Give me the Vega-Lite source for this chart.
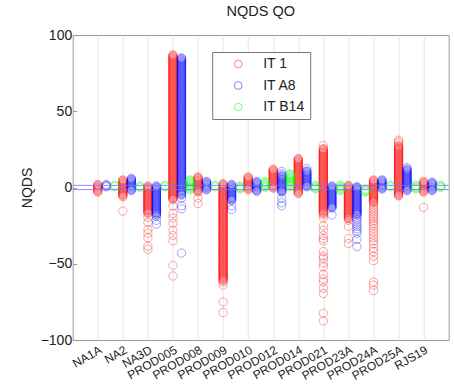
{
  "$schema": "https://vega.github.io/schema/vega-lite/v6.json",
  "width": 376,
  "height": 305,
  "autosize": {"type": "none"},
  "padding": {"left": 72.7, "top": 35, "right": 5.3, "bottom": 45},
  "title": {"text": "NQDS QO", "fontSize": 14.5, "fontWeight": "normal", "font": "Liberation Sans", "color": "#222", "offset": 9},
  "config": {"view": {"stroke": "#999"}, "font": "Liberation Sans"},
  "layer": [
    {
      "data": {"values": [
        {"s": "IT 1", "x": 1, "v": [2,1.5,1,0.5,0,-0.5,-1,-1.5,-2,-2.5,-3]},
        {"s": "IT 1", "x": 2, "v": [5,4.5,4,3.5,3,2.5,2,1.5,1,0.5,0,-0.5,-1,-1.5,-2,-2.5,-3,-3.5,-4,-4.5,-5,-5.5,-6,-15.5]},
        {"s": "IT 1", "x": 3, "v": [1,0.5,0,-0.5,-1,-1.5,-2,-2.5,-3,-3.5,-4,-4.5,-5,-5.5,-6,-6.5,-7,-7.5,-8,-8.5,-9,-9.5,-10,-10.5,-11,-11.5,-12,-12.5,-13,-13.5,-14,-14.5,-15,-15.5,-16,-16.5,-17,-19.5,-23,-27.5,-30,-33,-38.5,-40.5]},
        {"s": "IT 1", "x": 4, "v": [87,86.5,86,85.5,85,84.5,84,83.5,83,82.5,82,81.5,81,80.5,80,79.5,79,78.5,78,77.5,77,76.5,76,75.5,75,74.5,74,73.5,73,72.5,72,71.5,71,70.5,70,69.5,69,68.5,68,67.5,67,66.5,66,65.5,65,64.5,64,63.5,63,62.5,62,61.5,61,60.5,60,59.5,59,58.5,58,57.5,57,56.5,56,55.5,55,54.5,54,53.5,53,52.5,52,51.5,51,50.5,50,49.5,49,48.5,48,47.5,47,46.5,46,45.5,45,44.5,44,43.5,43,42.5,42,41.5,41,40.5,40,39.5,39,38.5,38,37.5,37,36.5,36,35.5,35,34.5,34,33.5,33,32.5,32,31.5,31,30.5,30,29.5,29,28.5,28,27.5,27,26.5,26,25.5,25,24.5,24,23.5,23,22.5,22,21.5,21,20.5,20,19.5,19,18.5,18,17.5,17,16.5,16,15.5,15,14.5,14,13.5,13,12.5,12,11.5,11,10.5,10,9.5,9,8.5,8,7.5,7,6.5,6,5.5,5,4.5,4,3.5,3,2.5,2,1.5,1,0.5,0,-0.5,-1,-1.5,-2,-2.5,-3,-3.5,-4,-4.5,-5,-5.5,-6,-6.5,-7,-7.5,-8,-12,-17,-20,-23.5,-28,-31.5,-35,-51,-58]},
        {"s": "IT 1", "x": 5, "v": [7,6.5,6,5.5,5,4.5,4,3.5,3,2.5,2,1.5,1,0.5,0,-0.5,-1,-1.5,-2,-2.5,-3,-7,-10.5]},
        {"s": "IT 1", "x": 6, "v": [2.5,2,1.5,1,0.5,0,-0.5,-1,-1.5,-2,-2.5,-3,-3.5,-4,-4.5,-5,-5.5,-6,-6.5,-7,-7.5,-8,-8.5,-9,-9.5,-10,-10.5,-11,-11.5,-12,-12.5,-13,-13.5,-14,-14.5,-15,-15.5,-16,-16.5,-17,-17.5,-18,-18.5,-19,-19.5,-20,-20.5,-21,-21.5,-22,-22.5,-23,-23.5,-24,-24.5,-25,-25.5,-26,-26.5,-27,-27.5,-28,-28.5,-29,-29.5,-30,-30.5,-31,-31.5,-32,-32.5,-33,-33.5,-34,-34.5,-35,-35.5,-36,-36.5,-37,-37.5,-38,-38.5,-39,-39.5,-40,-40.5,-41,-41.5,-42,-42.5,-43,-43.5,-44,-44.5,-45,-45.5,-46,-46.5,-47,-47.5,-48,-48.5,-49,-49.5,-50,-50.5,-51,-51.5,-52,-52.5,-53,-53.5,-54,-54.5,-55,-55.5,-56,-56.5,-57,-57.5,-58,-58.5,-59,-59.5,-60,-60.5,-61,-62,-64,-75,-82]},
        {"s": "IT 1", "x": 7, "v": [7,6.5,6,5.5,5,4.5,4,3.5,3,2.5,2,1.5,1,0.5,0,-0.5,-1,-1.5]},
        {"s": "IT 1", "x": 8, "v": [12,11.5,11,10.5,10,9.5,9,8.5,8,7.5,7,6.5,6,5.5,5,4.5,4,3.5,3,2.5,2,1.5,1,0.5,0,-0.5]},
        {"s": "IT 1", "x": 9, "v": [19,18.5,18,17.5,17,16.5,16,15.5,15,14.5,14,13.5,13,12.5,12,11.5,11,10.5,10,9.5,9,8.5,8,7.5,7,6.5,6,5.5,5,4.5,4,3.5,3,2.5,2,1.5,1,0.5,0,-0.5,-1,-1.5,-2,-2.5,-3,-3.5,-4]},
        {"s": "IT 1", "x": 10, "v": [27.5,25.5,25,24.5,24,23.5,23,22.5,22,21.5,21,20.5,20,19.5,19,18.5,18,17.5,17,16.5,16,15.5,15,14.5,14,13.5,13,12.5,12,11.5,11,10.5,10,9.5,9,8.5,8,7.5,7,6.5,6,5.5,5,4.5,4,3.5,3,2.5,2,1.5,1,0.5,0,-0.5,-1,-1.5,-2,-2.5,-3,-3.5,-4,-4.5,-5,-5.5,-6,-6.5,-7,-7.5,-8,-8.5,-9,-9.5,-10,-10.5,-11,-11.5,-12,-12.5,-13,-13.5,-14,-14.5,-15,-15.5,-16,-16.5,-17,-18,-20,-25,-28,-31.5,-33.5,-35,-42,-45,-46.5,-49.5,-52,-57,-60,-62,-66,-69.5,-82.5,-87.5]},
        {"s": "IT 1", "x": 11, "v": [1.5,1,0.5,0,-0.5,-1,-1.5,-2,-2.5,-3,-3.5,-4,-4.5,-5,-5.5,-6,-6.5,-7,-7.5,-8,-8.5,-9,-9.5,-10,-10.5,-11,-11.5,-12,-12.5,-13,-13.5,-14,-14.5,-15,-15.5,-16,-16.5,-17,-17.5,-18,-18.5,-19,-19.5,-20,-20.5,-21.5,-25.5,-33.5,-36.7]},
        {"s": "IT 1", "x": 12, "v": [5,4.5,4,3.5,3,2.5,2,1.5,1,0.5,0,-0.5,-1,-1.5,-2,-2.5,-3,-3.5,-4,-4.5,-5,-5.5,-6,-6.5,-7,-7.5,-8,-8.5,-9,-9.5,-10,-11.5,-13,-14.5,-16,-17.5,-19,-20.5,-22,-23.5,-25,-27,-29,-31,-33,-35,-37,-40,-42,-45,-48,-62,-64,-67.5]},
        {"s": "IT 1", "x": 13, "v": [31,30,29,27.5,27,26.5,26,25.5,25,24.5,24,23.5,23,22.5,22,21.5,21,20.5,20,19.5,19,18.5,18,17.5,17,16.5,16,15.5,15,14.5,14,13.5,13,12.5,12,11.5,11,10.5,10,9.5,9,8.5,8,7.5,7,6.5,6,5.5,5,4.5,4,3.5,3,2.5,2,1.5,1,0.5,0,-0.5,-1,-1.5,-2,-2.5,-3,-3.5,-4,-4.5,-5,-5.5]},
        {"s": "IT 1", "x": 14, "v": [4,3.5,3,2.5,2,1.5,1,0.5,0,-0.5,-1,-1.5,-2,-2.5,-3,-13]},
        {"s": "IT A8", "x": 1.34, "v": [2,1.5,1,0.5]},
        {"s": "IT A8", "x": 2.34, "v": [6,5.5,5,4.5,4,3.5,3,2.5,2,1.5,1,0.5,0,-0.5,-1,-1.5,-2]},
        {"s": "IT A8", "x": 3.34, "v": [1,0.5,0,-0.5,-1,-1.5,-2,-2.5,-3,-3.5,-4,-4.5,-5,-5.5,-6,-6.5,-7,-7.5,-8,-8.5,-9,-9.5,-10,-10.5,-11,-11.5,-12,-12.5,-13,-13.5,-14,-14.5,-15,-15.5,-16,-16.5,-17,-17.5,-18,-19,-21.5,-24]},
        {"s": "IT A8", "x": 4.34, "v": [85,84.5,84,83.5,83,82.5,82,81.5,81,80.5,80,79.5,79,78.5,78,77.5,77,76.5,76,75.5,75,74.5,74,73.5,73,72.5,72,71.5,71,70.5,70,69.5,69,68.5,68,67.5,67,66.5,66,65.5,65,64.5,64,63.5,63,62.5,62,61.5,61,60.5,60,59.5,59,58.5,58,57.5,57,56.5,56,55.5,55,54.5,54,53.5,53,52.5,52,51.5,51,50.5,50,49.5,49,48.5,48,47.5,47,46.5,46,45.5,45,44.5,44,43.5,43,42.5,42,41.5,41,40.5,40,39.5,39,38.5,38,37.5,37,36.5,36,35.5,35,34.5,34,33.5,33,32.5,32,31.5,31,30.5,30,29.5,29,28.5,28,27.5,27,26.5,26,25.5,25,24.5,24,23.5,23,22.5,22,21.5,21,20.5,20,19.5,19,18.5,18,17.5,17,16.5,16,15.5,15,14.5,14,13.5,13,12.5,12,11.5,11,10.5,10,9.5,9,8.5,8,7.5,7,6.5,6,5.5,5,4.5,4,3.5,3,2.5,2,1.5,1,0.5,0,-0.5,-1,-1.5,-2,-2.5,-3,-3.5,-4,-4.5,-5,-7,-12,-14,-43]},
        {"s": "IT A8", "x": 5.34, "v": [4,3.5,3,2.5,2,1.5,1,0.5,0,-0.5,-1,-1.5]},
        {"s": "IT A8", "x": 6.34, "v": [2,1.5,1,0.5,0,-0.5,-1,-1.5,-2,-2.5,-3,-3.5,-4,-4.5,-5,-5.5,-6,-6.5,-7,-7.5,-8,-8.5,-12,-14.5]},
        {"s": "IT A8", "x": 7.34, "v": [4,3.5,3,2.5,2,1.5,1,0.5,0,-0.5,-1,-1.5,-2,-2.5]},
        {"s": "IT A8", "x": 8.34, "v": [10.5,9,8,7.5,7,6.5,6,5.5,5,4.5,4,3.5,3,2.5,2,1.5,1,0.5,0,-0.5,-1,-1.5,-2,-2.5,-3,-7,-10,-12]},
        {"s": "IT A8", "x": 9.34, "v": [12.5,11,10.5,10,9.5,9,8.5,8,7.5,7,6.5,6,5.5,5,4.5,4,3.5,3,2.5,2,1.5,1,0.5]},
        {"s": "IT A8", "x": 10.34, "v": [1,0.5,0,-0.5,-1,-1.5,-2,-2.5,-3,-3.5,-4,-4.5,-5,-5.5,-6,-6.5,-7,-7.5,-8,-8.5,-9,-9.5,-10,-10.5,-11,-11.5,-12,-12.5,-13,-13.5,-18]},
        {"s": "IT A8", "x": 11.34, "v": [0.5,0,-0.5,-1,-1.5,-2,-2.5,-3,-3.5,-4,-4.5,-5,-5.5,-6,-6.5,-7,-7.5,-8,-8.5,-9,-9.5,-10,-10.5,-11,-11.5,-12,-12.5,-13,-13.5,-14,-14.5,-15,-15.5,-16,-16.5,-17,-17.5,-18,-19.5,-21,-22.5,-24,-25.5,-27,-28.5,-30,-34,-38.7]},
        {"s": "IT A8", "x": 12.34, "v": [5,4.5,4,3.5,3,2.5,2,1.5,1,0.5,0,-0.5,-1]},
        {"s": "IT A8", "x": 13.34, "v": [13,12,11.5,11,10.5,10,9.5,9,8.5,8,7.5,7,6.5,6,5.5,5,4.5,4,3.5,3,2.5,2,1.5,1,0.5,0,-0.5,-1,-1.5,-2]},
        {"s": "IT A8", "x": 14.34, "v": [3.5,3,2.5,2,1.5,1,0.5,0,-0.5,-1,-1.5,-2]},
        {"s": "IT B14", "x": 1.68, "v": [1.5,1,0.5]},
        {"s": "IT B14", "x": 2.68, "v": [1,0.5,0]},
        {"s": "IT B14", "x": 3.68, "v": [1.5,1,0.5]},
        {"s": "IT B14", "x": 4.68, "v": [5,4.5,4,3.5,3,2.5,2,1.5,1,0.5,0,-0.5,-1,-1.5]},
        {"s": "IT B14", "x": 5.68, "v": [1.5,1,0.5]},
        {"s": "IT B14", "x": 6.68, "v": [1,0.5,0,-0.5,-1]},
        {"s": "IT B14", "x": 7.68, "v": [4,3.5,3,2.5,2,1.5,1,0.5,0]},
        {"s": "IT B14", "x": 8.68, "v": [9,8.5,8,7.5,7,6.5,6,5.5,5,4.5,4,3.5,3,2.5,2,1.5,1,0.5]},
        {"s": "IT B14", "x": 9.68, "v": [1.5,1,0.5,0,-0.5,-1]},
        {"s": "IT B14", "x": 10.68, "v": [1.5,1,0.5,0,-0.5,-1,-1.5,-2]},
        {"s": "IT B14", "x": 11.68, "v": [-1,-1.5,-2,-2.5,-3]},
        {"s": "IT B14", "x": 12.68, "v": [1.5,1,0.5]},
        {"s": "IT B14", "x": 13.68, "v": [1.5,1,0.5,0,-0.5,-1]},
        {"s": "IT B14", "x": 14.68, "v": [1.5,1,0.5,0]}
      ]},
      "transform": [{"flatten": ["v"]}],
      "mark": {"type": "point", "shape": "circle", "filled": false, "size": 70, "strokeWidth": 1, "strokeOpacity": 0.5},
      "encoding": {
        "x": {
          "field": "x", "type": "quantitative",
          "scale": {"domain": [0, 15], "nice": false, "zero": false},
          "axis": {
            "title": null,
            "values": [1,2,3,4,5,6,7,8,9,10,11,12,13,14],
            "labelExpr": "['','NA1A','NA2','NA3D','PROD005','PROD008','PROD009','PROD010','PROD012','PROD014','PROD021','PROD23A','PROD24A','PROD25A','RJS19'][datum.value]",
            "labelAngle": -30, "labelAlign": "right", "labelBaseline": "top",
            "labelFontSize": 12, "labelColor": "#222", "labelPadding": 4,
            "labelOverlap": false, "labelBound": false, "labelFlush": false,
            "grid": true, "gridColor": "#e6e6e6", "ticks": false, "domain": false
          }
        },
        "y": {
          "field": "v", "type": "quantitative",
          "scale": {"domain": [-100, 100], "nice": false},
          "axis": {
            "title": "NQDS", "titleFontSize": 14, "titleFontWeight": "normal", "titleColor": "#222", "titlePadding": 6,
            "values": [-100, -50, 0, 50, 100],
            "labelFontSize": 14, "labelColor": "#222", "labelPadding": 5,
            "grid": false, "ticks": true, "tickSize": -4, "tickColor": "#999", "domain": false
          }
        },
        "color": {
          "field": "s", "type": "nominal",
          "scale": {"domain": ["IT 1", "IT A8", "IT B14"], "range": ["#ff0000", "#0000ff", "#00ff00"]},
          "legend": {
            "orient": "none", "legendX": 139.5, "legendY": 17,
            "title": null, "fillColor": "white", "strokeColor": "#777",
            "padding": 5, "symbolOffset": 14, "labelOffset": 18, "rowPadding": 7.5,
            "labelFontSize": 14, "labelColor": "#222",
            "symbolType": "circle", "symbolSize": 60, "symbolStrokeWidth": 1, "symbolOpacity": 0.5, "symbolFillColor": "transparent"
          }
        }
      }
    },
    {
      "data": {"values": [{"y": 1.4}, {"y": -1.4}]},
      "mark": {"type": "rule", "color": "#7070ff", "strokeWidth": 1, "opacity": 0.8},
      "encoding": {"y": {"field": "y", "type": "quantitative"}}
    }
  ]
}
